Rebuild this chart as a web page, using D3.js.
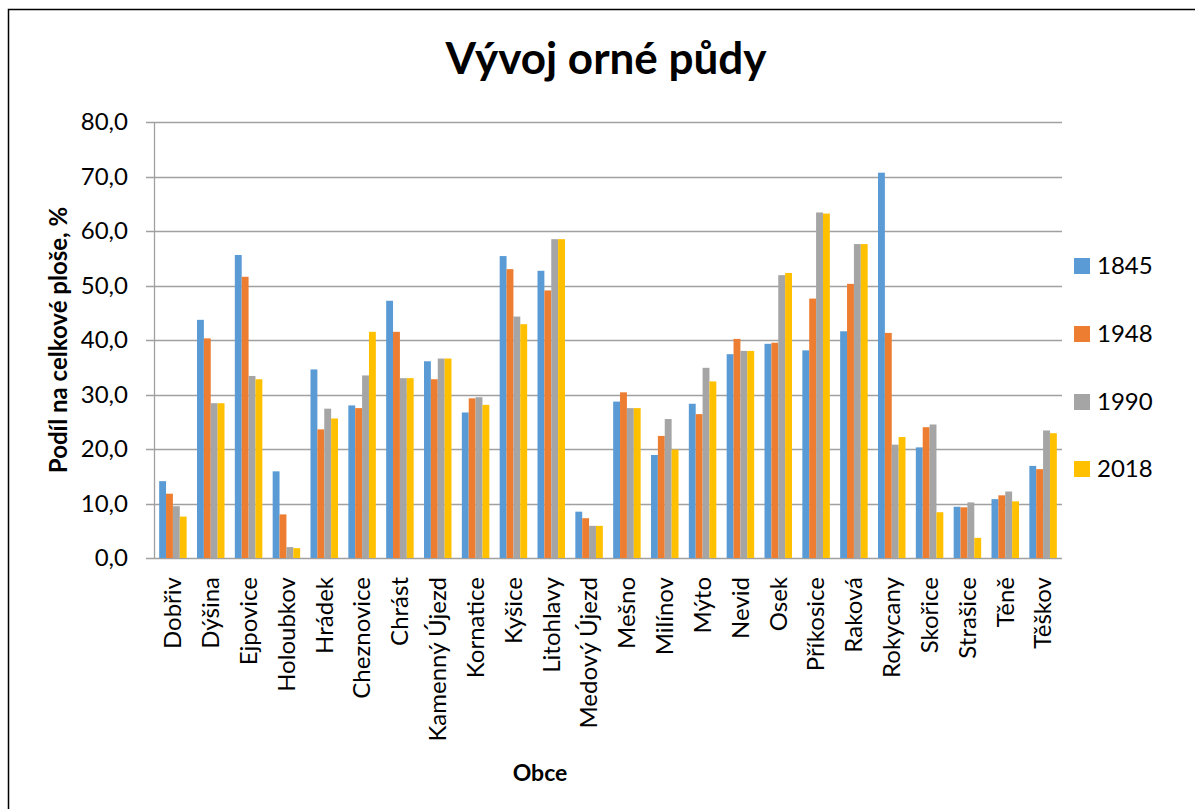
<!DOCTYPE html>
<html>
<head>
<meta charset="utf-8">
<script src="https://cdn.jsdelivr.net/npm/d3@7"></script>
<style>
  body { margin: 0; background: #fff; }
  text { font-family: Lato, "Open Sans", sans-serif; }
</style>
</head>
<body>
<svg id="chart" width="1195" height="809"></svg>
<script>
const categories = ["Dobřiv", "Dýšina", "Ejpovice", "Holoubkov", "Hrádek", "Cheznovice", "Chrást",
  "Kamenný Újezd", "Kornatice", "Kyšice", "Litohlavy", "Medový Újezd", "Mešno", "Milínov", "Mýto",
  "Nevid", "Osek", "Příkosice", "Raková", "Rokycany", "Skořice", "Strašice", "Těně", "Těškov"];

const seriesNames = ["1845", "1948", "1990", "2018"];
const v1845 = [14.1, 43.7, 55.6, 15.9, 34.6, 28.0, 47.2, 36.1, 26.7, 55.4, 52.7, 8.5, 28.7, 18.9, 28.3, 37.4, 39.3, 38.1, 41.6, 70.7, 20.3, 9.4, 10.8, 16.9];
const v1948 = [11.8, 40.3, 51.6, 8.0, 23.6, 27.5, 41.5, 32.8, 29.3, 53.0, 49.1, 7.3, 30.4, 22.4, 26.4, 40.2, 39.5, 47.6, 50.3, 41.3, 24.0, 9.3, 11.5, 16.3];
const v1990 = [9.5, 28.4, 33.4, 2.0, 27.4, 33.5, 33.0, 36.6, 29.5, 44.3, 58.5, 5.9, 27.5, 25.5, 34.9, 38.0, 51.9, 63.4, 57.6, 20.8, 24.5, 10.2, 12.2, 23.4];
const v2018 = [7.6, 28.4, 32.8, 1.8, 25.6, 41.5, 33.0, 36.6, 28.1, 42.9, 58.5, 5.9, 27.5, 19.9, 32.4, 38.0, 52.3, 63.2, 57.6, 22.2, 8.4, 3.7, 10.4, 22.9];
const yTicks = [0, 10, 20, 30, 40, 50, 60, 70, 80];

const colors = ["#5B9BD5", "#ED7D31", "#A5A5A5", "#FFC000"];
const seriesValues = [v1845, v1948, v1990, v2018];

const svg = d3.select("#chart");
const margin = { top: 122, right: 133, bottom: 251, left: 154 };
const width = 1195, height = 809;

// chart border
svg.append("rect")
  .attr("x", 8.5).attr("y", 9.5)
  .attr("width", 1220).attr("height", 830)
  .attr("fill", "none").attr("stroke", "#000").attr("stroke-width", 1.5);

const x = d3.scaleBand()
  .domain(categories)
  .range([margin.left, width - margin.right])
  .paddingInner(0.273)
  .paddingOuter(0.1365);

const xs = d3.scaleBand()
  .domain(seriesNames)
  .range([0, x.bandwidth()]);

const y = d3.scaleLinear()
  .domain([0, 80])
  .range([height - margin.bottom, margin.top]);

const fmt = d => d3.format(".1f")(d).replace(".", ",");

// gridlines
svg.append("g")
  .selectAll("line")
  .data(yTicks)
  .join("line")
  .attr("x1", margin.left - 8)
  .attr("x2", width - margin.right)
  .attr("y1", d => Math.round(y(d)) + 0.5)
  .attr("y2", d => Math.round(y(d)) + 0.5)
  .attr("stroke", "#a0a0a0")
  .attr("stroke-width", 1.3);

// y axis labels
svg.append("g")
  .selectAll("text")
  .data(yTicks)
  .join("text")
  .attr("x", margin.left - 26)
  .attr("y", d => y(d))
  .attr("dy", "0.35em")
  .attr("text-anchor", "end")
  .attr("font-size", "24px")
  .attr("fill", "#000")
  .text(fmt);

// vertical axis line
svg.append("line")
  .attr("x1", margin.left + 0.5).attr("x2", margin.left + 0.5)
  .attr("y1", y(80)).attr("y2", y(0))
  .attr("stroke", "#a0a0a0").attr("stroke-width", 1.3);

// bars
const groups = svg.append("g")
  .selectAll("g")
  .data(seriesNames)
  .join("g")
  .attr("fill", (d, i) => colors[i]);

groups.selectAll("rect")
  .data((s, i) => seriesValues[i].map((v, j) => ({ cat: categories[j], s, v })))
  .join("rect")
  .attr("x", d => x(d.cat) + xs(d.s))
  .attr("width", xs.bandwidth())
  .attr("y", d => y(d.v))
  .attr("height", d => y(0) - y(d.v));

// category labels
svg.append("g")
  .selectAll("text")
  .data(categories)
  .join("text")
  .attr("transform", d => `translate(${x(d) + x.bandwidth() / 2},${y(0) + 19}) rotate(-90)`)
  .attr("dy", "0.35em")
  .attr("text-anchor", "end")
  .attr("font-size", "24px")
  .attr("fill", "#000")
  .text(d => d);

// title
svg.append("text")
  .attr("x", 606).attr("y", 74)
  .attr("text-anchor", "middle")
  .attr("font-size", "44px")
  .attr("font-weight", "bold")
  .text("Vývoj orné půdy");

// axis titles
svg.append("text")
  .attr("x", 540).attr("y", 781)
  .attr("text-anchor", "middle")
  .attr("font-size", "23px")
  .attr("font-weight", "bold")
  .text("Obce");

svg.append("text")
  .attr("transform", "translate(67,340) rotate(-90)")
  .attr("text-anchor", "middle")
  .attr("font-size", "24px")
  .attr("font-weight", "bold")
  .text("Podíl na celkové ploše, %");

// legend
const legendY = [266, 334, 402, 469];
const legend = svg.append("g")
  .selectAll("g")
  .data(seriesNames)
  .join("g")
  .attr("transform", (d, i) => `translate(1074,${legendY[i]})`);

legend.append("rect")
  .attr("x", 0).attr("y", -8)
  .attr("width", 16).attr("height", 16)
  .attr("fill", (d, i) => colors[i]);

legend.append("text")
  .attr("x", 23).attr("y", 0)
  .attr("dy", "0.35em")
  .attr("font-size", "24px")
  .text(d => d);
</script>
</body>
</html>
